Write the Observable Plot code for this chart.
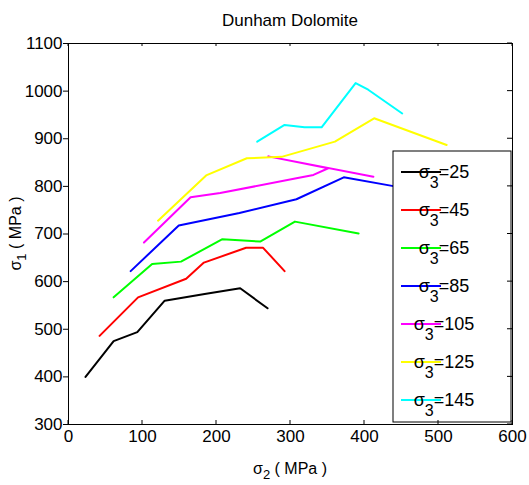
<!DOCTYPE html>
<html><head><meta charset="utf-8">
<script src="https://cdn.jsdelivr.net/npm/d3@7"></script>
<script src="https://cdn.jsdelivr.net/npm/@observablehq/plot@0.6"></script>
<style>body{margin:0;background:#fff}</style>
</head><body><div id="chart"></div>
<script>
const sigma3Levels = [25, 45, 65, 85, 105, 125, 145];
const seriesColors = ["#000000", "#ff0000", "#00ff00", "#0000ff", "#ff00ff", "#ffff00", "#00ffff"];

const s25_x = [23, 61, 93, 130, 184, 232, 269];
const s25_y = [400, 475, 494, 560, 574, 586, 544];
const s45_x = [42, 94, 159, 183, 240, 263, 292];
const s45_y = [486, 567, 606, 640, 671, 671, 622];
const s65_x = [61, 113, 152, 208, 259, 306, 392];
const s65_y = [567, 637, 642, 689, 684, 726, 701];
const s85_x = [84, 149, 231, 308, 372, 441, 455];
const s85_y = [622, 718, 744, 773, 819, 800, 796];
const s105_x = [102, 165, 205, 308, 331, 351, 270, 412];
const s105_y = [682, 777, 786, 817, 824, 838, 863, 820];
const s125_x = [121, 186, 241, 288, 360, 413, 511];
const s125_y = [728, 823, 859, 862, 894, 943, 887];
const s145_x = [255, 292, 319, 342, 388, 405, 451];
const s145_y = [894, 929, 924, 924, 1017, 1003, 953];

const xTicks = [0, 100, 200, 300, 400, 500, 600];
const yTicks = [300, 400, 500, 600, 700, 800, 900, 1000, 1100];
const titleText = "Dunham Dolomite";

const xsAll = [s25_x, s45_x, s65_x, s85_x, s105_x, s125_x, s145_x];
const ysAll = [s25_y, s45_y, s65_y, s85_y, s105_y, s125_y, s145_y];
const rows = [];
sigma3Levels.forEach((s, i) => {
  xsAll[i].forEach((x, j) => rows.push({s3: s, sigma2: x, sigma1: ysAll[i][j]}));
});

const W = 529, H = 485;
const plot = Plot.plot({
  width: W, height: H,
  marginLeft: 68, marginRight: 17, marginTop: 43, marginBottom: 61,
  style: {fontFamily: "'Liberation Sans', Arial, sans-serif", fontSize: "17px", background: "white", color: "black"},
  x: {domain: [0, 600]},
  y: {domain: [300, 1100]},
  color: {type: "ordinal", domain: sigma3Levels, range: seriesColors},
  marks: [
    Plot.line(rows, {x: "sigma2", y: "sigma1", z: "s3", stroke: "s3", strokeWidth: 2}),
    Plot.axisX({ticks: xTicks, tickSize: 0, tickPadding: 5, tickFormat: d => String(d), label: null, fontSize: 17}),
    Plot.axisY({ticks: yTicks, tickSize: 5, tickPadding: 1, tickFormat: d => String(d), label: null, fontSize: 17}),
    Plot.frame({stroke: "black", strokeWidth: 1})
  ]
});
document.getElementById("chart").appendChild(plot);

const sx = plot.scale("x"), sy = plot.scale("y");
const x0 = sx.range[0], x1 = sx.range[1];
const yb = sy.range[0], yt = sy.range[1];
const svg = d3.select(plot);
const font = "'Liberation Sans', Arial, sans-serif";

// Title
svg.append("text").attr("x", (x0 + x1) / 2).attr("y", 26).attr("text-anchor", "middle")
  .attr("font-family", font).attr("font-size", 17).text(titleText);

// x label
const xl = svg.append("text").attr("x", (x0 + x1) / 2).attr("y", 474).attr("text-anchor", "middle")
  .attr("font-family", font).attr("font-size", 16);
xl.append("tspan").text("σ");
xl.append("tspan").attr("dy", 5).attr("font-size", 13).text("2");
xl.append("tspan").attr("dy", -5).text(" ( MPa )");

// y label
const yl = svg.append("text").attr("transform", `translate(21,${(yb + yt) / 2}) rotate(-90)`)
  .attr("text-anchor", "middle").attr("font-family", font).attr("font-size", 16);
yl.append("tspan").text("σ");
yl.append("tspan").attr("dy", 5).attr("font-size", 13).text("1");
yl.append("tspan").attr("dy", -5).text(" ( MPa )");

// Legend
const lg = svg.append("g");
const lx = 393, ly = 151, lw = 118, lh = 271;
lg.append("rect").attr("x", lx).attr("y", ly).attr("width", lw).attr("height", lh)
  .attr("fill", "white").attr("stroke", "black").attr("stroke-width", 1);
sigma3Levels.forEach((s, i) => {
  const cy = 172 + i * 38;
  lg.append("line").attr("x1", 401).attr("x2", 441).attr("y1", cy).attr("y2", cy)
    .attr("stroke", seriesColors[i]).attr("stroke-width", 2);
  const t = lg.append("text").attr("x", 444).attr("y", cy + 6).attr("font-family", font).attr("font-size", 18);
  t.append("tspan").text("σ");
  t.append("tspan").attr("dy", 10).attr("font-size", 16).text("3");
  t.append("tspan").attr("dy", -10).text("=" + s);
});

// inward ticks (bottom, top, right)
const tg = svg.append("g").attr("stroke", "black").attr("stroke-width", 1);
xTicks.forEach(v => {
  const px = sx.apply(v);
  tg.append("line").attr("x1", px).attr("x2", px).attr("y1", yb).attr("y2", yb - 4);
  tg.append("line").attr("x1", px).attr("x2", px).attr("y1", yt).attr("y2", yt + 3);
});
yTicks.forEach(v => {
  const py = sy.apply(v);
  tg.append("line").attr("x1", x1).attr("x2", x1 - 5).attr("y1", py).attr("y2", py);
});
</script>
</body></html>
